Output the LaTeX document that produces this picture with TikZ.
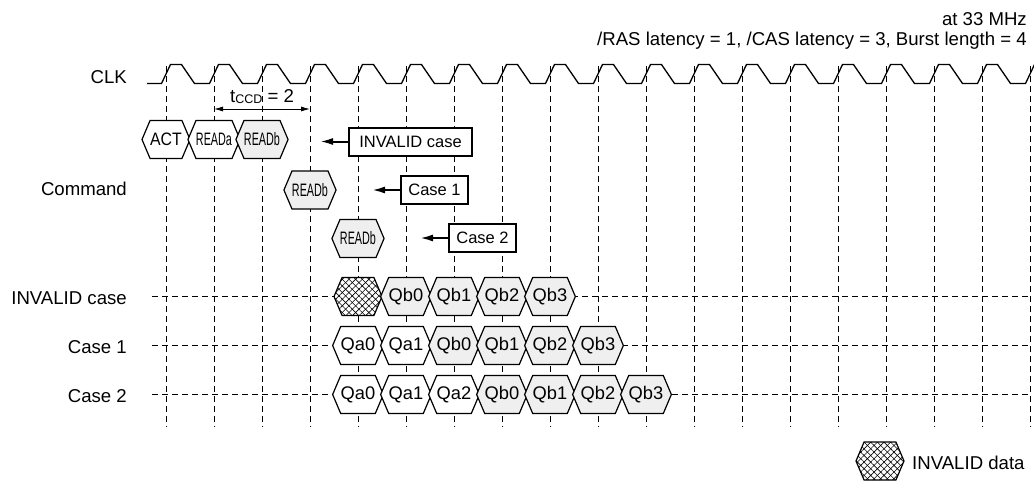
\documentclass[tikz,border=0pt]{standalone}
\usepackage{graphicx}
\usepackage{fontspec}
\setmainfont{Liberation Sans}
\usetikzlibrary{shapes.symbols,arrows.meta,patterns.meta}
\definecolor{hexgray}{HTML}{EFEFEF}
\tikzset{
  lab/.style={font=\fontsize{18.6}{21}\selectfont, inner sep=0pt},
  hexshape/.style={signal, signal to=east and west, signal pointer angle=134,
    minimum width=48pt, minimum height=38pt, inner sep=0pt, draw, line width=1.2pt},
  hexa/.style={hexshape, fill=white, font=\fontsize{18}{20}\selectfont},
  datahex/.style={hexshape, fill=white, font=\fontsize{18.3}{20}\selectfont},
  bhex/.style={fill=hexgray},
  invhex/.style={hexshape, preaction={fill=white},
    preaction={pattern={Lines[angle=45,distance=4.7pt,line width=0.6pt]}},
    pattern={Lines[angle=-45,distance=4.7pt,line width=0.6pt]}},
  gridline/.style={dash pattern=on 6pt off 4pt, line width=0.9pt},
  callout/.style={draw, line width=2pt, fill=white, minimum height=28pt,
    inner sep=0pt, font=\fontsize{16.5}{18}\selectfont},
  pointer/.style={line width=2pt, -{Latex[length=13pt,width=7pt]}},
  dimarrow/.style={line width=0.9pt, {Latex[length=9pt,width=5pt]}-{Latex[length=9pt,width=5pt]}},
  clk/.style={line width=1.3pt, line join=miter},
}
\newcommand{\cond}[1]{\scalebox{0.6}[1]{#1}}
\newcommand{\semicond}[1]{\scalebox{0.88}[1]{#1}}
\begin{document}
\begin{tikzpicture}[x=1pt,y=-1pt]
\path[use as bounding box] (0,0) rectangle (1034,482);

% grid
\foreach \k in {0,...,18}{
  \draw[gridline] ({166+48*\k},66) -- ({166+48*\k},427);
}
\foreach \y in {296.5,345.5,394.5}{
  \draw[gridline] (152,\y) -- (1030,\y);
}

% clock
\draw[clk] (147,83.5) foreach \k in {0,...,17}{
  -- ({166+48*\k-4.5},83.5) -- ({166+48*\k+4.5},64.5)
  -- ({166+48*\k+15.5},64.5) -- ({166+48*\k+28.5},83.5) }
  -- (1025.5,83.5) -- (1034.5,64.5);

% header texts
\node[lab, anchor=base east] (freq) at (1027,25) {at 33 MHz};
\node[lab, anchor=base east] (param) at (1027,45.5) {/RAS latency = 1, /CAS latency = 3, Burst length = 4};

% left labels
\node[lab, anchor=base east] (lclk) at (127,83.3) {CLK};
\node[lab, anchor=base east] (lcmd) at (127,195.7) {Command};
\node[lab, anchor=base east] (linv) at (127,304) {INVALID case};
\node[lab, anchor=base east] (lc1) at (127,353) {Case 1};
\node[lab, anchor=base east] (lc2) at (127,402) {Case 2};

% tCCD
\coordinate (tccdA) at (214,109);
\coordinate (tccdB) at (310,109);
\draw[dimarrow] (tccdA) -- (tccdB);
\node[lab, anchor=base] (tccd) at (262,102.3) {t\raisebox{-1pt}{\fontsize{12.5}{13}\selectfont CCD} = 2};

% commands
\node[hexa] (act) at (166,139.5) {\semicond{ACT}};
\node[hexa] (rda) at (214,139.5) {\cond{READa}};
\node[hexa, bhex] (rdb0) at (262,139.5) {\cond{READb}};
\node[hexa, bhex] (rdb1) at (310,190) {\cond{READb}};
\node[hexa, bhex] (rdb2) at (358,238.5) {\cond{READb}};

% callouts
\node[callout, minimum width=123pt] (binv) at (410.5,141.5) {INVALID case};
\node[callout, minimum width=67pt] (bc1) at (434.5,190) {Case 1};
\node[callout, minimum width=67pt] (bc2) at (482.5,238) {Case 2};
\coordinate (tinv) at (320,141.5);
\coordinate (tc1) at (372,190);
\coordinate (tc2) at (420,238);
\draw[pointer] (binv.west) -- (tinv);
\draw[pointer] (bc1.west) -- (tc1);
\draw[pointer] (bc2.west) -- (tc2);

% INVALID case row
\node[invhex] (i0) at (358,296.5) {};
\node[datahex, bhex] (i1) at (406,296.5) {Qb0};
\node[datahex, bhex] (i2) at (454,296.5) {Qb1};
\node[datahex, bhex] (i3) at (502,296.5) {Qb2};
\node[datahex, bhex] (i4) at (550,296.5) {Qb3};

% Case 1 row
\node[datahex] (a0) at (358,345.5) {Qa0};
\node[datahex] (a1) at (406,345.5) {Qa1};
\node[datahex, bhex] (a2) at (454,345.5) {Qb0};
\node[datahex, bhex] (a3) at (502,345.5) {Qb1};
\node[datahex, bhex] (a4) at (550,345.5) {Qb2};
\node[datahex, bhex] (a5) at (598,345.5) {Qb3};

% Case 2 row
\node[datahex] (b0) at (358,394.5) {Qa0};
\node[datahex] (b1) at (406,394.5) {Qa1};
\node[datahex] (b2) at (454,394.5) {Qa2};
\node[datahex, bhex] (b3) at (502,394.5) {Qb0};
\node[datahex, bhex] (b4) at (550,394.5) {Qb1};
\node[datahex, bhex] (b5) at (598,394.5) {Qb2};
\node[datahex, bhex] (b6) at (646,394.5) {Qb3};

% legend
\node[invhex] (leg) at (880,461) {};
\node[lab, anchor=base west] (legt) at (912,469) {INVALID data};
\end{tikzpicture}
\end{document}
